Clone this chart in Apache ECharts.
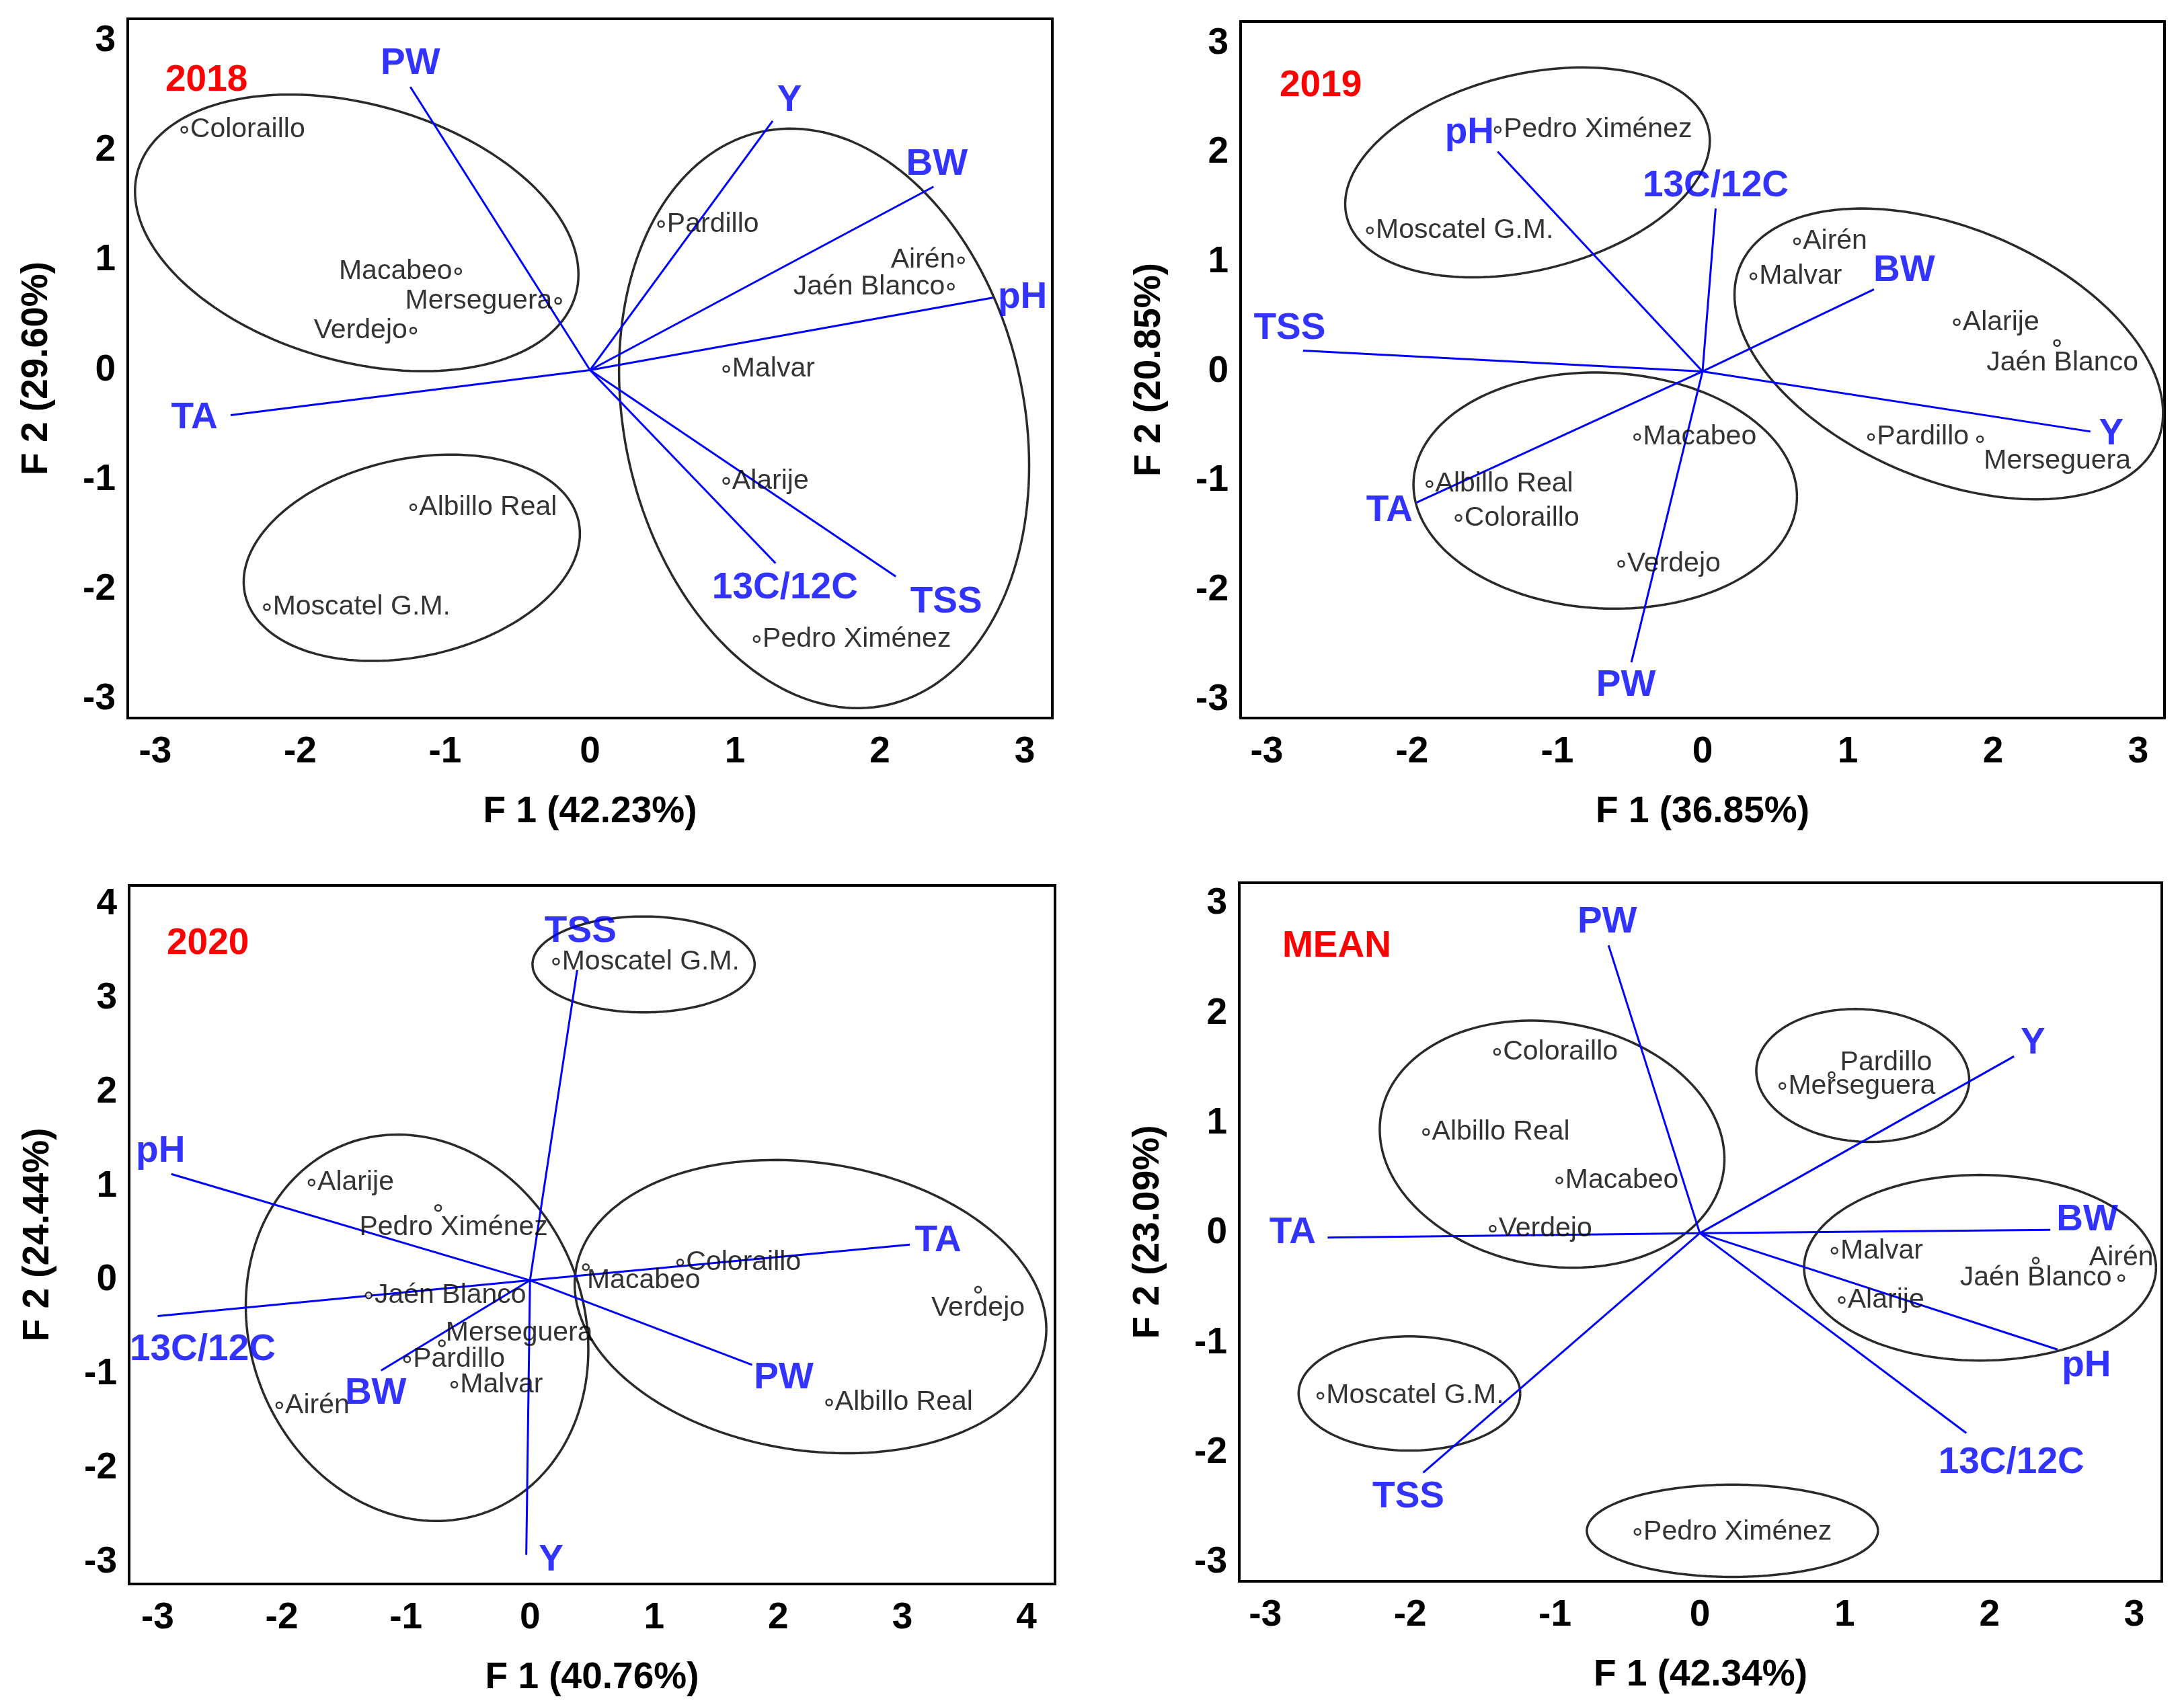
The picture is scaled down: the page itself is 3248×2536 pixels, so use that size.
<!DOCTYPE html>
<html>
<head>
<meta charset="utf-8">
<script src="https://cdn.jsdelivr.net/npm/echarts@6/dist/echarts.min.js"></script>
<style>html,body{margin:0;padding:0;background:#fff}#c{width:3248px;height:2536px}</style>
</head>
<body>
<div id="c"></div>
<script>
// ---------- DATA ----------
const panelTitles = ['2018', '2019', '2020', 'MEAN'];
const xTitles = ['F 1 (42.23%)', 'F 1 (36.85%)', 'F 1 (40.76%)', 'F 1 (42.34%)'];
const yTitles = ['F 2 (29.60%)', 'F 2 (20.85%)', 'F 2 (24.44%)', 'F 2 (23.09%)'];
const xTicksA = [-3, -2, -1, 0, 1, 2, 3];
const xTicksB = [-3, -2, -1, 0, 1, 2, 3, 4];
const yTicksA = [-3, -2, -1, 0, 1, 2, 3];
const yTicksB = [-3, -2, -1, 0, 1, 2, 3, 4];

// 2018
const cult2018 = ['Coloraillo','Macabeo','Merseguera','Verdejo','Pardillo','Airén','Jaén Blanco','Malvar','Alarije','Albillo Real','Moscatel G.M.','Pedro Ximénez'];
const f1_2018 = [-2.80,-0.91,-0.22,-1.22,0.49,2.56,2.49,0.94,0.94,-1.22,-2.23,1.15];
const f2_2018 = [2.19,0.90,0.63,0.36,1.33,1.00,0.76,0.01,-1.01,-1.25,-2.16,-2.45];
const vars2018 = ['PW','Y','BW','pH','TA','13C/12C','TSS'];
const v1_2018 = [-1.24,1.26,2.37,2.78,-2.48,1.28,2.11];
const v2_2018 = [2.58,2.27,1.67,0.66,-0.41,-1.76,-1.88];
// ellipses: [centre F1, centre F2, half-width, half-height, phase deg]
const ell2018 = [[-1.61,1.25,1.53,1.26,107.5],[-1.23,-1.71,1.16,0.94,76.5],[1.615,-0.44,1.415,2.64,99.4]];

// 2019
const cult2019 = ['Pedro Ximénez','Moscatel G.M.','Airén','Malvar','Alarije','Jaén Blanco','Pardillo','Merseguera','Macabeo','Albillo Real','Coloraillo','Verdejo'];
const f1_2019 = [-1.41,-2.29,0.65,0.35,1.75,2.44,1.16,1.91,-0.45,-1.88,-1.68,-0.56];
const f2_2019 = [2.21,1.29,1.19,0.87,0.45,0.26,-0.60,-0.62,-0.60,-1.03,-1.34,-1.76];
const vars2019 = ['pH','13C/12C','BW','TSS','Y','TA','PW'];
const v1_2019 = [-1.41,0.09,1.18,-2.75,2.67,-1.97,-0.49];
const v2_2019 = [2.01,1.49,0.75,0.19,-0.55,-1.20,-2.66];
const ell2019 = [[-1.205,1.82,1.255,0.96,72.5],[-0.67,-1.09,1.32,1.08,92.9],[1.695,0.16,1.475,1.33,114]];

// 2020
const cult2020 = ['Moscatel G.M.','Alarije','Pedro Ximénez','Coloraillo','Macabeo','Verdejo','Jaén Blanco','Merseguera','Pardillo','Malvar','Airén','Albillo Real'];
const f1_2020 = [0.21,-1.76,-0.74,1.21,0.45,3.61,-1.30,-0.71,-0.99,-0.61,-2.02,2.41];
const f2_2020 = [3.39,1.04,0.77,0.19,0.14,-0.10,-0.16,-0.67,-0.84,-1.11,-1.33,-1.30];
const vars2020 = ['TSS','pH','TA','13C/12C','PW','BW','Y'];
const v1_2020 = [0.38,-2.89,3.06,-3.00,1.79,-1.20,-0.03];
const v2_2020 = [3.30,1.13,0.38,-0.38,-0.90,-0.96,-2.92];
const ell2020 = [[0.915,3.36,0.895,0.51,90],[-0.91,-0.505,1.38,2.055,96.5],[2.26,-0.28,1.9,1.56,98.8]];

// MEAN
const cultMean = ['Coloraillo','Albillo Real','Macabeo','Verdejo','Pardillo','Merseguera','Malvar','Jaén Blanco','Airén','Alarije','Moscatel G.M.','Pedro Ximénez'];
const f1_Mean = [-1.40,-1.89,-0.97,-1.43,0.91,0.57,0.93,2.32,2.91,0.98,-2.62,-0.43];
const f2_Mean = [1.65,0.92,0.48,0.04,1.44,1.34,-0.16,-0.25,-0.41,-0.61,-1.48,-2.72];
const varsMean = ['PW','Y','BW','TA','pH','13C/12C','TSS'];
const v1_Mean = [-0.63,2.17,2.42,-2.57,2.47,1.84,-1.91];
const v2_Mean = [2.62,1.61,0.03,-0.04,-1.06,-1.82,-2.18];
const ellMean = [[-1.02,0.81,1.19,1.125,96.9],[1.125,1.435,0.735,0.605,94],[1.935,-0.315,1.215,0.845,90],[-2.005,-1.46,0.765,0.52,90],[0.225,-2.71,1.005,0.42,90]];

// ---------- LAYOUT / STYLE ----------
const grids = [
  {left:190, top:28, width:1375, height:1040},
  {left:1845, top:32, width:1374, height:1036},
  {left:192, top:1317, width:1377, height:1039},
  {left:1843, top:1313, width:1372, height:1039}
];
const ranges = [
  {x:[-3.19,3.19], y:[-3.17,3.2]},
  {x:[-3.18,3.18], y:[-3.17,3.2]},
  {x:[-3.23,4.23], y:[-3.23,4.2]},
  {x:[-3.18,3.19], y:[-3.17,3.19]}
];
const titlePos = [[246,92],[1903,100],[248,1376],[1907,1380]];
// point label placement: default 'right'; 'left' or centre offset [dx,dy]
const ptPlace = [
  {'Macabeo':'left','Merseguera':'left','Verdejo':'left','Airén':'left','Jaén Blanco':'left'},
  {'Jaén Blanco':[8,30],'Merseguera':[115,32]},
  {'Pedro Ximénez':[23,29],'Macabeo':[86,20],'Verdejo':[0,27],'Merseguera':[115,-15]},
  {'Pardillo':[81,-18],'Jaén Blanco':[0,26],'Airén':[0,-30]}
];
// vector label centre offsets from arrow end (px)
const vecPlace = [
  {'PW':[0,-34],'Y':[25,-30],'BW':[5,-33],'pH':[44,0],'TA':[-54,4],'13C/12C':[14,37],'TSS':[75,38]},
  {'pH':[-42,-28],'13C/12C':[0,-33],'BW':[45,-28],'TSS':[-20,-33],'Y':[31,4],'TA':[-40,12],'PW':[-8,35]},
  {'TSS':[5,-57],'pH':[-16,-33],'TA':[42,-5],'13C/12C':[67,50],'PW':[47,20],'BW':[-8,34],'Y':[37,8]},
  {'PW':[-2,-34],'Y':[28,-19],'BW':[55,-14],'TA':[-52,-7],'pH':[43,25],'13C/12C':[67,44],'TSS':[-22,37]}
];
const FONT = 'Liberation Sans, Arial, sans-serif';
const BLUE = '#0000ff';

const panels = [
  {c:cult2018,f1:f1_2018,f2:f2_2018,v:vars2018,v1:v1_2018,v2:v2_2018,e:ell2018,xt:xTicksA,yt:yTicksA},
  {c:cult2019,f1:f1_2019,f2:f2_2019,v:vars2019,v1:v1_2019,v2:v2_2019,e:ell2019,xt:xTicksA,yt:yTicksA},
  {c:cult2020,f1:f1_2020,f2:f2_2020,v:vars2020,v1:v1_2020,v2:v2_2020,e:ell2020,xt:xTicksB,yt:yTicksB},
  {c:cultMean,f1:f1_Mean,f2:f2_Mean,v:varsMean,v1:v1_Mean,v2:v2_Mean,e:ellMean,xt:xTicksA,yt:yTicksA}
];

function ellipsePts(e){
  const [cx,cy,w,h,ph] = e; const psi = ph*Math.PI/180; const pts=[];
  for(let k=0;k<=180;k++){ const t=2*Math.PI*k/180; pts.push([cx+w*Math.cos(t), cy+h*Math.cos(t-psi)]); }
  return pts;
}

const option = {
  animation:false,
  backgroundColor:'#fff',
  title: panelTitles.map((t,i)=>({text:t,left:titlePos[i][0],top:titlePos[i][1],padding:0,
    textStyle:{color:'#ff0000',fontSize:55,fontWeight:'bold',fontFamily:FONT}})),
  grid: grids.map(g=>Object.assign({show:true,borderColor:'#000',borderWidth:4,backgroundColor:'transparent'},g)),
  xAxis: panels.map((p,i)=>({type:'value',gridIndex:i,min:ranges[i].x[0],max:ranges[i].x[1],
    name:xTitles[i],nameLocation:'middle',nameGap:112,
    nameTextStyle:{fontSize:55,fontWeight:'bold',color:'#000',fontFamily:FONT},
    axisLine:{show:false},axisTick:{show:false},splitLine:{show:false},
    axisLabel:{customValues:p.xt,fontSize:55,fontWeight:'bold',color:'#000',fontFamily:FONT,margin:23}})),
  yAxis: panels.map((p,i)=>({type:'value',gridIndex:i,min:ranges[i].y[0],max:ranges[i].y[1],
    name:yTitles[i],nameLocation:'middle',nameGap:108,
    nameTextStyle:{fontSize:55,fontWeight:'bold',color:'#000',fontFamily:FONT},
    axisLine:{show:false},axisTick:{show:false},splitLine:{show:false},
    axisLabel:{customValues:p.yt,fontSize:55,fontWeight:'bold',color:'#000',fontFamily:FONT,margin:18}})),
  series: []
};

panels.forEach((p,i)=>{
  p.e.forEach(e=>{
    option.series.push({type:'line',xAxisIndex:i,yAxisIndex:i,data:ellipsePts(e),showSymbol:false,
      smooth:false,silent:true,z:2,lineStyle:{color:'#2a2a2a',width:3.5}});
  });
  option.series.push({type:'lines',coordinateSystem:'cartesian2d',xAxisIndex:i,yAxisIndex:i,z:3,silent:true,
    lineStyle:{color:BLUE,width:3,opacity:1},
    data:p.v.map((n,k)=>({coords:[[0,0],[p.v1[k],p.v2[k]]]}))});
  option.series.push({type:'scatter',xAxisIndex:i,yAxisIndex:i,z:5,symbolSize:0,silent:true,
    data:p.v.map((n,k)=>({name:n,value:[p.v1[k],p.v2[k]],
      label:{show:true,position:'inside',offset:vecPlace[i][n]||[0,0],formatter:n,
        color:BLUE,fontSize:55,fontWeight:'bold',fontFamily:FONT}}))});
  option.series.push({type:'scatter',xAxisIndex:i,yAxisIndex:i,z:4,symbol:'circle',symbolSize:9,silent:true,
    itemStyle:{color:'#fff',borderColor:'#000',borderWidth:2.5},
    data:p.c.map((n,k)=>{
      const pl = ptPlace[i][n];
      const lab = {show:true,formatter:n,color:'#000',fontSize:41,fontFamily:FONT};
      if(Array.isArray(pl)){ lab.position='inside'; lab.offset=pl; }
      else { lab.position = pl||'right'; lab.distance=3; }
      return {name:n,value:[p.f1[k],p.f2[k]],label:lab};
    })});
});

const chart = echarts.init(document.getElementById('c'),null,{renderer:'canvas',width:3248,height:2536});
chart.setOption(option);
</script>
</body>
</html>
